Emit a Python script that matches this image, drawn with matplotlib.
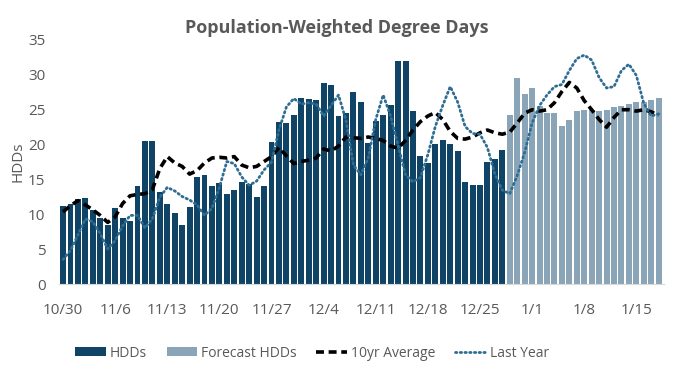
import matplotlib
matplotlib.use("Agg")
import matplotlib.pyplot as plt
import numpy as np
import pandas as pd

plt.rcParams["font.family"] = ["Open Sans", "DejaVu Sans"]

dates = pd.date_range("2017-10-30", "2018-01-18", freq="D")

hdds = [11.1, 11.4, 12.1, 12.3, 10.6, 9.4, 8.4, 10.9, 9.4, 9.0,
        14.0, 20.4, 20.4, 13.1, 11.4, 10.1, 8.4, 11.0, 15.3, 15.6,
        14.0, 14.4, 12.9, 13.4, 14.6, 14.3, 12.4, 14.0, 20.3, 23.1,
        23.0, 24.1, 26.6, 26.4, 26.3, 28.7, 28.4, 24.0, 24.4, 27.4,
        26.0, 20.1, 23.3, 24.1, 25.6, 31.9, 31.9, 24.7, 18.3, 17.3,
        20.0, 20.6, 20.0, 19.0, 14.6, 14.1, 14.1, 17.4, 17.9, 19.1]
forecast = [24.1, 29.4, 27.1, 28.0, 25.4, 24.4, 24.4, 22.6, 23.4, 24.7,
            24.9, 24.9, 24.7, 24.9, 25.3, 25.4, 25.7, 26.0, 26.0, 26.3, 26.6]
avg10 = [10.3, 11.2, 11.9, 11.3, 10.6, 9.8, 8.8, 9.6, 11.5, 12.6,
         12.8, 12.9, 13.5, 16.5, 18.2, 17.3, 16.8, 15.7, 16.2, 17.3,
         18.0, 18.1, 18.0, 18.2, 17.0, 16.6, 16.8, 17.5, 18.2, 19.5,
         18.3, 17.2, 17.5, 17.7, 18.0, 19.3, 19.0, 19.7, 21.0, 20.9,
         20.8, 21.0, 20.8, 20.5, 19.7, 19.4, 20.5, 22.0, 23.2, 24.0,
         24.5, 23.5, 21.8, 20.8, 20.7, 21.0, 21.6, 22.0, 21.6, 21.4,
         21.7, 23.0, 24.4, 24.9, 24.7, 24.9, 25.9, 27.5, 28.8, 28.0,
         26.2, 24.9, 23.5, 22.4, 23.8, 24.9, 24.9, 24.7, 24.9, 24.6, 24.1]
last_year = [3.5, 4.8, 7.0, 9.3, 8.9, 7.2, 5.0, 6.2, 8.3, 9.8,
             9.8, 8.0, 9.3, 12.4, 13.8, 13.3, 12.5, 12.0, 11.3, 9.8,
             10.8, 13.8, 17.5, 17.2, 15.3, 14.1, 14.7, 16.3, 17.4, 22.0,
             25.3, 26.5, 25.7, 25.9, 25.7, 24.0, 25.5, 27.0, 23.4, 17.0,
             15.6, 18.0, 23.5, 27.0, 24.0, 19.8, 15.6, 14.6, 15.2, 18.5,
             22.5, 25.5, 28.2, 26.0, 22.5, 21.5, 21.4, 19.5, 15.7, 13.4,
             12.9, 15.5, 18.8, 23.0, 25.5, 27.0, 28.2, 28.5, 30.5, 32.2,
             32.7, 32.0, 29.5, 28.0, 28.2, 30.5, 31.4, 29.8, 25.8, 24.0, 24.3]

x = np.arange(len(dates))
n_obs = len(hdds)
tick_idx = x[::7]
tick_labels = [f"{d.month}/{d.day}" for d in dates[::7]]

dark = "#0f4466"
light = "#8aa5b8"
dotc = "#2f6d93"
grey = "#595959"

fig = plt.figure(figsize=(6.74, 3.84), dpi=100)
ax = fig.add_axes([0.088, 0.2604, 0.897, 0.638])

b1 = ax.bar(x[:n_obs], hdds, width=0.8, color=dark, label="HDDs", zorder=2)
b2 = ax.bar(x[n_obs:], forecast, width=0.8, color=light, label="Forecast HDDs", zorder=2)
l1, = ax.plot(x, avg10, color="black", lw=2.6, dashes=(2.2, 1.3), label="10yr Average", zorder=3)
l2, = ax.plot(x, last_year, color=dotc, lw=2.0, linestyle=(0, (0.5, 1.2)),
              dash_capstyle="round", label="Last Year", zorder=3)

ax.set_xlim(-0.5, len(x) - 0.3)
ax.set_ylim(0, 35)
ax.set_yticks(range(0, 36, 5))
ax.set_xticks(tick_idx)
ax.set_xticklabels(tick_labels)
ax.tick_params(axis="both", length=0, labelsize=11, colors=grey)
ax.tick_params(axis="x", pad=14)
ax.tick_params(axis="y", pad=10)
for s in ["top", "right", "left"]:
    ax.spines[s].set_visible(False)
ax.spines["bottom"].set_color("#d9d9d9")
ax.set_ylabel("HDDs", fontsize=11, color=grey, labelpad=2)

fig.text(0.5, 0.915, "Population-Weighted Degree Days", ha="center",
         fontsize=13, fontweight="bold", color=grey)

fig.legend(handles=[b1, b2, l1, l2], loc="center", bbox_to_anchor=(0.463, 0.08),
           ncol=4, frameon=False, fontsize=10, labelcolor=grey,
           handlelength=2.2, handleheight=0.6, columnspacing=1.4,
           handletextpad=0.3)

fig.savefig("out.png", dpi=100)
